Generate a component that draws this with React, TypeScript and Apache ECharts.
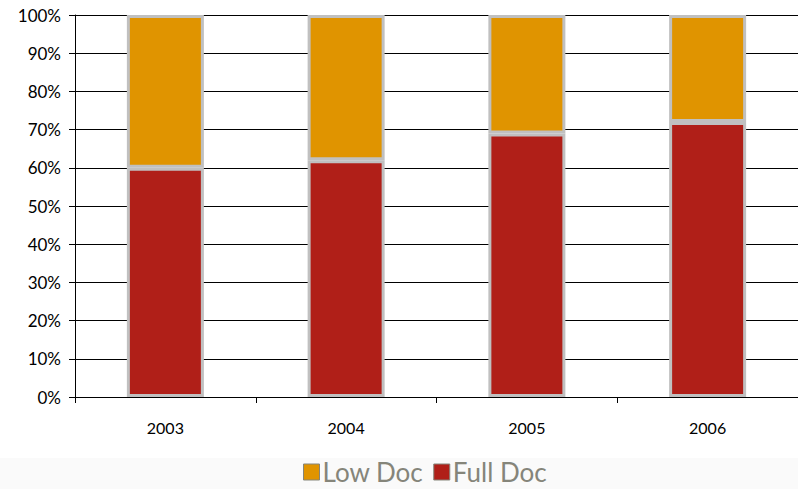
import React, { useEffect, useRef } from "react";
import * as echarts from "echarts";

const years = ["2003", "2004", "2005", "2006"];
const fullDoc = [60, 62, 69, 72];
const lowDoc = [40, 38, 31, 28];

export default function App() {
  const ref = useRef<HTMLDivElement>(null);
  useEffect(() => {
    if (!ref.current) return;
    const chart = echarts.init(ref.current, null, { renderer: "svg" });
    const font = "Lato";
    chart.setOption({
      animation: false,
      backgroundColor: "#ffffff",
      graphic: [
        {
          type: "rect",
          left: 0,
          top: 458,
          z: -10,
          shape: { x: 0, y: 0, width: 798, height: 31 },
          style: { fill: "#fafafa" },
          silent: true,
        },
      ],
      grid: { left: 75, right: 0, top: 15, bottom: 92 },
      legend: {
        data: ["Low Doc", "Full Doc"],
        top: 459,
        padding: 0,
        left: 303,
        icon: "rect",
        itemWidth: 16,
        itemHeight: 16,
        itemGap: 10,
        textStyle: { fontFamily: font, fontSize: 26, lineHeight: 26, color: "#85857a", padding: [0, 0, 0, -2] },
        itemStyle: { borderColor: "#85857a", borderWidth: 1 },
      },
      xAxis: {
        type: "category",
        data: years,
        axisLine: { lineStyle: { color: "#000", width: 1 } },
        axisTick: { show: true, length: 6, lineStyle: { color: "#000" } },
        axisLabel: { fontFamily: font, fontSize: 16, color: "#000", margin: 22 },
        splitLine: { show: false },
      },
      yAxis: {
        type: "value",
        min: 0,
        max: 100,
        interval: 10,
        axisLine: { show: true, lineStyle: { color: "#000", width: 1 } },
        axisTick: { show: true, length: 6, lineStyle: { color: "#000" } },
        axisLabel: { fontFamily: font, fontSize: 17, color: "#000", margin: 14, formatter: "{value}%" },
        splitLine: { show: true, lineStyle: { color: "#000", width: 1 } },
      },
      series: [
        {
          name: "Full Doc",
          type: "bar",
          stack: "total",
          data: fullDoc,
          barWidth: 77,
          itemStyle: { color: "#b01f18", borderColor: "#c0c0c0", borderWidth: 3 },
        },
        {
          name: "Low Doc",
          type: "bar",
          stack: "total",
          data: lowDoc,
          barWidth: 77,
          itemStyle: { color: "#e09400", borderColor: "#c0c0c0", borderWidth: 3 },
        },
      ],
    });
    return () => chart.dispose();
  }, []);
  return <div ref={ref} style={{ width: 798, height: 489, position: "absolute", left: 0, top: 0 }} />;
}
